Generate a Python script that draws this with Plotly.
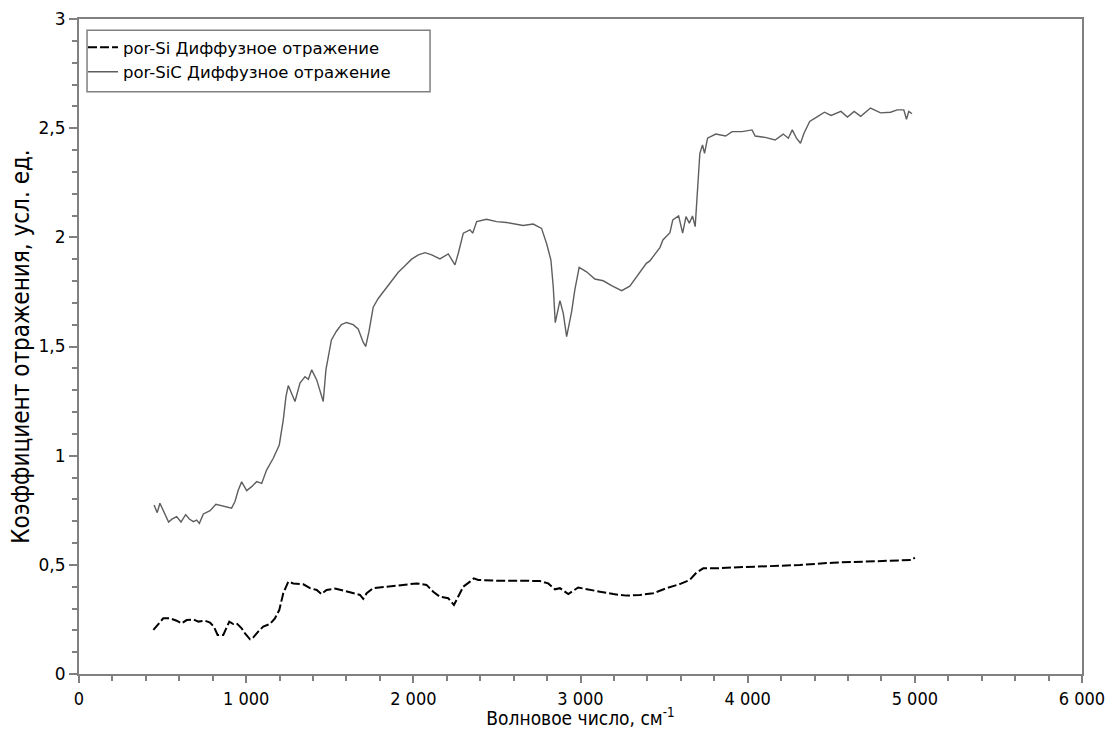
import plotly.graph_objects as go

# por-SiC diffuse reflection (grey solid)
sic_x = [449, 468, 484, 504, 536, 556, 584, 610, 638, 660, 684, 704, 720, 744, 784, 819, 853, 883, 913,
         933, 953, 973, 1003, 1033, 1063, 1093, 1122, 1162, 1198, 1222, 1238, 1252, 1272, 1292, 1322,
         1352, 1372, 1392, 1422, 1461, 1477, 1490, 1510, 1540, 1570, 1600, 1640, 1670, 1700, 1715, 1735,
         1760, 1790, 1830, 1870, 1910, 1950, 1990, 2030, 2070, 2110, 2159, 2209, 2249, 2269, 2299, 2339,
         2355, 2379, 2438, 2498, 2558, 2657, 2717, 2767, 2797, 2823, 2837, 2849, 2877, 2897, 2917, 2947,
         2966, 2992, 3036, 3086, 3136, 3186, 3246, 3295, 3355, 3394, 3415, 3475, 3493, 3535, 3552, 3587,
         3611, 3631, 3651, 3670, 3686, 3700, 3714, 3730, 3742, 3760, 3809, 3868, 3907, 3967, 4026, 4045,
         4105, 4164, 4213, 4243, 4267, 4292, 4316, 4337, 4371, 4420, 4459, 4499, 4558, 4597, 4637, 4676,
         4735, 4795, 4855, 4894, 4934, 4950, 4964, 4983]
sic_y = [0.774, 0.739, 0.782, 0.751, 0.696, 0.709, 0.721, 0.696, 0.730, 0.710, 0.698, 0.705, 0.690, 0.733,
         0.748, 0.777, 0.770, 0.767, 0.760, 0.790, 0.843, 0.880, 0.840, 0.858, 0.881, 0.873, 0.934, 0.988,
         1.049, 1.164, 1.270, 1.321, 1.286, 1.248, 1.332, 1.362, 1.350, 1.393, 1.347, 1.248, 1.393, 1.45,
         1.53, 1.57, 1.60, 1.61, 1.60, 1.58, 1.52, 1.50, 1.57, 1.68, 1.72, 1.76, 1.80, 1.84, 1.87, 1.90,
         1.92, 1.93, 1.92, 1.901, 1.924, 1.874, 1.927, 2.019, 2.034, 2.019, 2.072, 2.083, 2.072, 2.068,
         2.054, 2.061, 2.041, 1.972, 1.896, 1.774, 1.609, 1.710, 1.652, 1.545, 1.660, 1.759, 1.862, 1.842,
         1.809, 1.801, 1.779, 1.756, 1.776, 1.840, 1.881, 1.892, 1.953, 1.988, 2.021, 2.080, 2.098, 2.019,
         2.095, 2.065, 2.098, 2.049, 2.232, 2.385, 2.423, 2.385, 2.454, 2.473, 2.464, 2.484, 2.484, 2.492,
         2.464, 2.458, 2.446, 2.473, 2.454, 2.492, 2.454, 2.431, 2.477, 2.531, 2.554, 2.573, 2.558, 2.577,
         2.551, 2.577, 2.554, 2.592, 2.570, 2.573, 2.584, 2.584, 2.541, 2.577, 2.566]

# por-Si diffuse reflection (black dashed)
si_x = [445, 468, 504, 544, 584, 614, 644, 684, 714, 754, 784, 807, 829, 863, 883, 899, 923, 943, 973, 993,
        1023, 1043, 1072, 1102, 1142, 1172, 1198, 1222, 1252, 1282, 1342, 1382, 1422, 1451, 1481, 1531,
        1581, 1641, 1681, 1700, 1721, 1760, 1840, 1940, 2020, 2079, 2119, 2159, 2209, 2243, 2269, 2299,
        2339, 2362, 2388, 2498, 2637, 2757, 2807, 2847, 2877, 2927, 2986, 3036, 3116, 3196, 3276, 3355,
        3435, 3515, 3594, 3654, 3693, 3734, 3813, 3913, 4113, 4312, 4511, 4711, 4910, 4980, 5000]
si_y = [0.202, 0.224, 0.255, 0.255, 0.244, 0.232, 0.247, 0.250, 0.240, 0.244, 0.235, 0.217, 0.179, 0.179,
        0.209, 0.240, 0.229, 0.232, 0.209, 0.186, 0.159, 0.168, 0.194, 0.217, 0.229, 0.255, 0.293, 0.370,
        0.423, 0.415, 0.411, 0.393, 0.385, 0.366, 0.385, 0.391, 0.382, 0.370, 0.362, 0.344, 0.370, 0.393,
        0.400, 0.408, 0.415, 0.408, 0.377, 0.354, 0.347, 0.316, 0.354, 0.400, 0.423, 0.438, 0.431, 0.427,
        0.427, 0.426, 0.415, 0.388, 0.393, 0.366, 0.396, 0.388, 0.377, 0.366, 0.359, 0.362, 0.370, 0.393,
        0.412, 0.431, 0.464, 0.484, 0.484, 0.488, 0.492, 0.499, 0.510, 0.514, 0.518, 0.522, 0.533]

name_si = "por-Si Диффузное отражение"
name_sic = "por-SiC Диффузное отражение"
x_title = "Волновое число, см<sup>-1</sup>"
y_title = "Коэффициент отражения, усл. ед."

fig = go.Figure()
fig.add_trace(go.Scatter(x=si_x, y=si_y, mode="lines", name=name_si,
                         line=dict(color="#000000", width=2, dash="9px,3px")))
fig.add_trace(go.Scatter(x=sic_x, y=sic_y, mode="lines", name=name_sic,
                         line=dict(color="#5e5e5e", width=1.4)))

axis_common = dict(showgrid=False, zeroline=False, showline=True, linecolor="#808080", linewidth=2,
                   mirror=True, ticks="outside", tickcolor="#808080", tickwidth=1.5)

fig.update_layout(
    width=1110, height=729,
    margin=dict(l=79, r=28, t=19, b=55, autoexpand=False),
    paper_bgcolor="white", plot_bgcolor="white",
    separators=", ",
    font=dict(family="DejaVu Sans, Verdana, sans-serif", size=16, color="#000000"),
    showlegend=True,
    legend=dict(x=0.004, y=0.983, xanchor="left", yanchor="top", bgcolor="rgba(0,0,0,0)",
                borderwidth=0, font=dict(size=16.5), itemwidth=30, tracegroupgap=0),
    shapes=[dict(type="rect", xref="paper", yref="paper", x0=0.008, x1=0.350, y0=0.889, y1=0.983,
                 line=dict(color="#808080", width=1.5), fillcolor="rgba(0,0,0,0)", layer="below")],
    xaxis=dict(range=[0, 6000], dtick=1000, tick0=0, ticklen=7, separatethousands=True,
               tickfont=dict(family="DejaVu Sans Condensed, DejaVu Sans, sans-serif", size=18),
               minor=dict(dtick=200, ticks="outside", ticklen=5, tickcolor="#808080", tickwidth=1.5),
               title=dict(text=x_title, standoff=3,
                          font=dict(family="DejaVu Sans Condensed, DejaVu Sans, sans-serif", size=19)),
               **axis_common),
    yaxis=dict(range=[0, 3], dtick=0.5, tick0=0, ticklen=8,
               tickfont=dict(family="DejaVu Sans, Verdana, sans-serif", size=17),
               minor=dict(dtick=0.1, ticks="outside", ticklen=5, tickcolor="#808080", tickwidth=1.5),
               title=dict(text=y_title, standoff=2,
                          font=dict(family="DejaVu Sans Condensed, DejaVu Sans, sans-serif", size=24)),
               **axis_common),
)

fig.write_html("out.html")
